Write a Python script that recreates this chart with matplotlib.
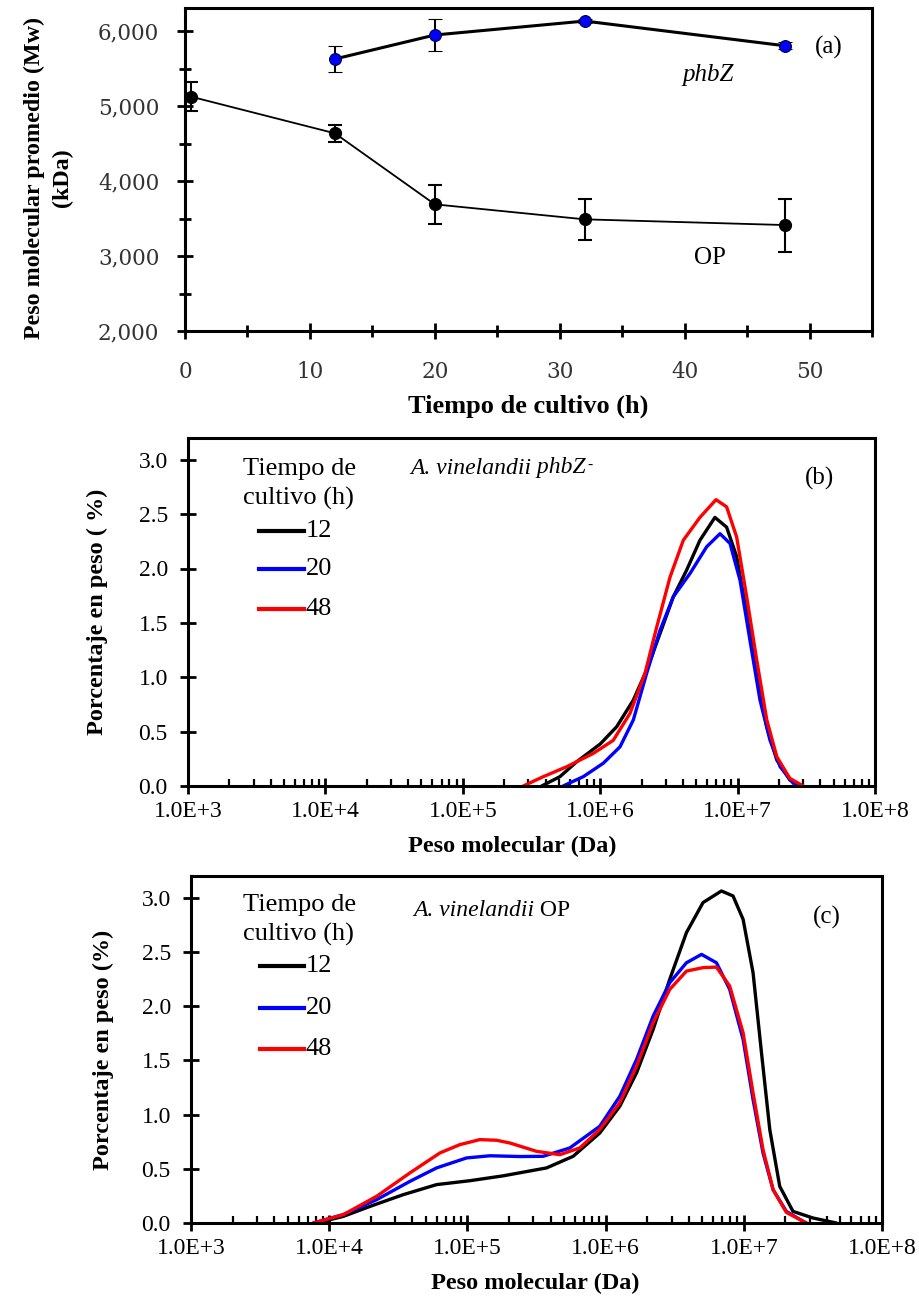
import matplotlib
matplotlib.use("Agg")
import matplotlib.pyplot as plt
from matplotlib.ticker import MultipleLocator, FixedLocator, NullFormatter, FuncFormatter
import numpy as np

# ---------------- Data: panel (a) ----------------
t_op = [0.5, 12, 20, 32, 48]
mw_op = [5124, 4636, 3689, 3489, 3413]
err_op = [190, 115, 257, 270, 353]

t_phb = [12, 20, 32, 48]
mw_phb = [5627, 5947, 6133, 5804]
err_phb = [178, 207, 30, 50]

# ---------------- Data: panel (b) A. vinelandii phbZ- ----------------
b12_logM = [5.574, 5.707, 5.829, 6.0, 6.12, 6.241, 6.338, 6.435, 6.532, 6.629, 6.726, 6.835,
            6.92, 6.993, 7.066, 7.139, 7.212, 7.285, 7.38, 7.467]
b12_w = [0.0, 0.086, 0.223, 0.386, 0.545, 0.79, 1.066, 1.40, 1.74, 1.985, 2.26, 2.47,
         2.38, 2.11, 1.585, 1.036, 0.545, 0.24, 0.055, 0.0]

b20_logM = [5.73, 5.877, 6.023, 6.144, 6.241, 6.338, 6.435, 6.532, 6.654, 6.775, 6.872,
            6.945, 7.018, 7.09, 7.163, 7.236, 7.31, 7.405, 7.454]
b20_w = [0.0, 0.086, 0.21, 0.36, 0.607, 1.036, 1.43, 1.74, 1.955, 2.2, 2.32,
         2.23, 1.89, 1.34, 0.79, 0.42, 0.177, 0.025, 0.0]

b48_logM = [5.44, 5.586, 5.756, 5.95, 6.095, 6.217, 6.326, 6.411, 6.508, 6.605, 6.726, 6.843,
            6.92, 6.993, 7.066, 7.139, 7.212, 7.285, 7.38, 7.478]
b48_w = [0.0, 0.086, 0.177, 0.30, 0.42, 0.668, 1.036, 1.46, 1.92, 2.26, 2.47, 2.633,
         2.567, 2.29, 1.74, 1.16, 0.61, 0.27, 0.07, 0.0]

# ---------------- Data: panel (c) A. vinelandii OP ----------------
c12_logM = [3.909, 4.102, 4.295, 4.535, 4.777, 5.018, 5.259, 5.573, 5.765, 5.958, 6.103,
            6.224, 6.344, 6.464, 6.585, 6.705, 6.838, 6.922, 6.995, 7.067, 7.128, 7.188,
            7.26, 7.356, 7.501, 7.67]
c12_w = [0.0, 0.061, 0.153, 0.261, 0.354, 0.39, 0.435, 0.508, 0.615, 0.83, 1.077,
         1.385, 1.785, 2.247, 2.678, 2.955, 3.062, 3.016, 2.80, 2.308, 1.57, 0.862,
         0.338, 0.107, 0.046, 0.0]

c20_logM = [3.885, 4.102, 4.343, 4.584, 4.777, 4.994, 5.163, 5.38, 5.548, 5.741, 5.958,
            6.103, 6.224, 6.344, 6.464, 6.585, 6.694, 6.802, 6.898, 6.995, 7.067, 7.139,
            7.212, 7.308, 7.429, 7.453]
c20_w = [0.0, 0.077, 0.215, 0.384, 0.508, 0.60, 0.62, 0.613, 0.615, 0.692, 0.892,
         1.169, 1.508, 1.908, 2.216, 2.40, 2.477, 2.40, 2.154, 1.693, 1.139, 0.646,
         0.307, 0.107, 0.015, 0.0]

c48_logM = [3.885, 4.102, 4.343, 4.584, 4.801, 4.946, 5.09, 5.211, 5.307, 5.50, 5.669,
            5.813, 5.958, 6.103, 6.224, 6.344, 6.464, 6.585, 6.705, 6.802, 6.898, 6.995,
            7.067, 7.139, 7.212, 7.308, 7.453]
c48_w = [0.0, 0.077, 0.246, 0.462, 0.646, 0.723, 0.769, 0.763, 0.738, 0.661, 0.63,
         0.692, 0.862, 1.108, 1.446, 1.846, 2.154, 2.323, 2.355, 2.36, 2.185, 1.754,
         1.20, 0.677, 0.307, 0.098, 0.0]

legend_labels = ["12", "20", "48"]
colors = ["#000000", "#0000ff", "#ff0000"]

SERIF = ["Liberation Serif", "DejaVu Serif"]
plt.rcParams['font.family'] = SERIF

W, H = 920, 1299
fig = plt.figure(figsize=(W / 100, H / 100), dpi=100)

def frac(l, r, t, b):
    return [l / W, (H - b) / H, (r - l) / W, (b - t) / H]

# ---------------- Panel (a) ----------------
axa = fig.add_axes(frac(185, 872, 8, 331))
axa.errorbar(t_phb, mw_phb, yerr=err_phb, color="black", lw=2.2, marker="o",
             markersize=8.5, markerfacecolor="#0000ff", markeredgecolor="#000040",
             markeredgewidth=0.8, ecolor="black", elinewidth=1.5, capsize=5, capthick=1.5,
             zorder=3)
axa.errorbar(t_op, mw_op, yerr=err_op, color="black", lw=1.3, marker="o",
             markersize=8.5, markerfacecolor="black", markeredgecolor="black",
             ecolor="black", elinewidth=1.5, capsize=5, capthick=1.5, zorder=3)
axa.set_xlim(0, 55)
axa.set_ylim(2000, 6307)
axa.xaxis.set_major_locator(MultipleLocator(10))
axa.xaxis.set_minor_locator(MultipleLocator(5))
axa.yaxis.set_major_locator(MultipleLocator(1000))
axa.yaxis.set_minor_locator(MultipleLocator(500))
axa.yaxis.set_major_formatter(FuncFormatter(lambda v, p: f"{int(v):,}"))
axa.tick_params(which="major", direction="inout", length=11, width=2.0,
                labelsize=15.5, labelcolor="#333333")
axa.tick_params(which="minor", direction="inout", length=8, width=2.0)
axa.tick_params(axis="y", which="major", pad=13)
axa.tick_params(axis="x", which="major", pad=16)
for lab in axa.get_xticklabels() + axa.get_yticklabels():
    lab.set_fontfamily(["DejaVu Serif"])
for s in axa.spines.values():
    s.set_linewidth(2.2)
axa.set_xlabel("Tiempo de cultivo (h)", fontsize=19, fontweight="bold")
axa.xaxis.set_label_coords(0.5, (331 - 395) / 323)
axa.set_ylabel("Peso molecular promedio (Mw)\n(kDa)", fontsize=17.3, fontweight="bold",
               linespacing=1.4)
axa.yaxis.set_label_coords((73 - 185) / 687, (331 - 178) / 323)
axa.text((815 - 185) / 687, (331 - 47) / 323, "(a)", transform=axa.transAxes,
         fontsize=18, ha="left", va="center")
axa.text((708 - 185) / 687, (331 - 75) / 323, "phbZ", transform=axa.transAxes,
         fontsize=18, style="italic", ha="center", va="center")
axa.text((710 - 185) / 687, (331 - 258) / 323, "OP", transform=axa.transAxes,
         fontsize=18, ha="center", va="center")

# ---------------- Panels (b), (c) ----------------
def dist_panel(rect, series, tag, tag_xy, title_xy, ylab, leg_y, leg_x):
    ax = fig.add_axes(rect)
    for (lm, w), c in zip(series, colors):
        ax.plot(np.power(10.0, lm), w, color=c, lw=2.4, solid_capstyle="round")
    ax.set_xscale("log")
    ax.set_xlim(1e3, 1e8)
    ax.set_ylim(0, 3.2)
    ax.xaxis.set_major_locator(FixedLocator([1e3, 1e4, 1e5, 1e6, 1e7, 1e8]))
    ax.xaxis.set_major_formatter(FuncFormatter(lambda v, p: "1.0E+%d" % round(np.log10(v))))
    minors = [m * 10.0 ** d for d in range(3, 8) for m in range(2, 10)]
    ax.xaxis.set_minor_locator(FixedLocator(minors))
    ax.xaxis.set_minor_formatter(NullFormatter())
    ax.yaxis.set_major_locator(FixedLocator([0, 0.5, 1.0, 1.5, 2.0, 2.5, 3.0]))
    ax.yaxis.set_major_formatter(FuncFormatter(lambda v, p: f"{v:.1f}"))
    ax.tick_params(which="major", direction="inout", length=11, width=2.0, labelsize=17)
    ax.tick_params(which="minor", direction="in", length=5, width=1.6)
    ax.tick_params(axis="y", pad=9)
    ax.tick_params(axis="x", pad=5)
    for s in ax.spines.values():
        s.set_linewidth(2.2)
    ax.set_xlabel("Peso molecular (Da)", fontsize=17.5, fontweight="bold")
    ax.set_ylabel(ylab, fontsize=17.5, fontweight="bold")
    # legend title
    ax.text(leg_x, leg_y[0], "Tiempo de\ncultivo (h)", transform=ax.transAxes,
            fontsize=19, ha="left", va="center", linespacing=1.4)
    for c, lab, yy in zip(colors, legend_labels, leg_y[1:]):
        ax.plot([leg_x + 0.024, leg_x + 0.089], [yy, yy], transform=ax.transAxes,
                color=c, lw=3)
        ax.text(leg_x + 0.091, yy, lab, transform=ax.transAxes, fontsize=19,
                ha="left", va="center")
    ax.text(tag_xy[0], tag_xy[1], tag, transform=ax.transAxes, fontsize=18,
            ha="left", va="center")
    t1 = ax.text(title_xy[0], title_xy[1], "A. vinelandii", transform=ax.transAxes,
                 fontsize=17, style="italic", ha="left", va="center")
    return ax, t1

# (b): left 188, right 875, top 438, bottom 786
bl, br, bt, bb = 188, 875, 438, 786
def bx(px): return (px - bl) / (br - bl)
def by(py): return (bb - py) / (bb - bt)
axb, tb = dist_panel(frac(bl, br, bt, bb),
                     [(b12_logM, b12_w), (b20_logM, b20_w), (b48_logM, b48_w)],
                     "(b)", (bx(805), by(478)), (bx(410), by(468)),
                     "Porcentaje en peso ( %)",
                     [by(484), by(531), by(569), by(609)], bx(243))
ann_b = axb.annotate(" phbZ", xy=(1, 0.5), xycoords=tb, fontsize=17, style="italic",
                     ha="left", va="center")
axb.annotate("-", xy=(1.0, 1.0), xycoords=ann_b, xytext=(1, -1),
             textcoords="offset points", fontsize=11, ha="left", va="top")
axb.xaxis.set_label_coords(bx(512), by(836))
axb.yaxis.set_label_coords(bx(108), 0.5)

# (c): left 191, right 882, top 876, bottom 1223
cl, cr, ct, cb = 191, 882, 876, 1223
def cx(px): return (px - cl) / (cr - cl)
def cy(py): return (cb - py) / (cb - ct)
axc, tc = dist_panel(frac(cl, cr, ct, cb),
                     [(c12_logM, c12_w), (c20_logM, c20_w), (c48_logM, c48_w)],
                     "(c)", (cx(813), cy(917)), (cx(413), cy(910)),
                     "Porcentaje en peso (%)",
                     [cy(920), cy(966), cy(1008), cy(1049)], cx(243))
axc.annotate(" OP", xy=(1, 0.5), xycoords=tc, fontsize=17, ha="left", va="center")
axc.xaxis.set_label_coords(cx(535), cy(1273))
axc.yaxis.set_label_coords(cx(114), 0.5)

fig.savefig("out.png", dpi=100)
